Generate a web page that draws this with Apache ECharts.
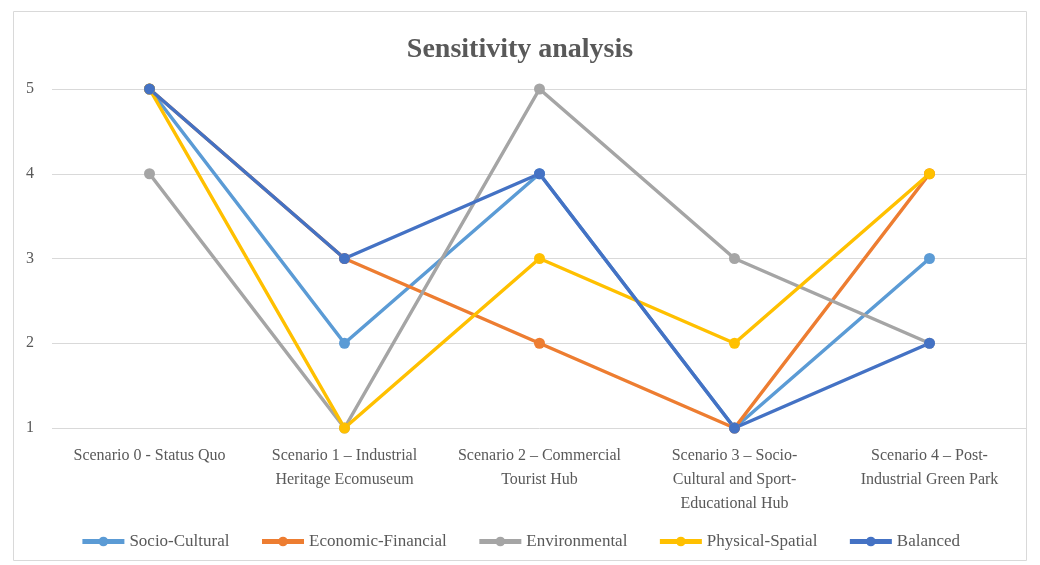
<!DOCTYPE html>
<html><head><meta charset="utf-8">
<script src="https://cdn.jsdelivr.net/npm/echarts@6/dist/echarts.min.js"></script>
<style>html,body{margin:0;padding:0;background:#fff}#c{width:1040px;height:565px}</style>
</head><body><div id="c"></div>
<script>
const categories = [
  'Scenario 0 - Status Quo',
  'Scenario 1 – Industrial\nHeritage Ecomuseum',
  'Scenario 2 – Commercial\nTourist Hub',
  'Scenario 3 – Socio-\nCultural and Sport-\nEducational Hub',
  'Scenario 4 – Post-\nIndustrial Green Park'
];
const socioCultural = [5, 2, 4, 1, 3];
const economicFinancial = [5, 3, 2, 1, 4];
const environmental = [4, 1, 5, 3, 2];
const physicalSpatial = [5, 1, 3, 2, 4];
const balanced = [5, 3, 4, 1, 2];
const yTicks = [1, 2, 3, 4, 5];

const font = '"Liberation Serif", "DejaVu Serif", serif';
const txt = '#595959';
function s(name, data, color) {
  return { name, type: 'line', data, color, symbol: 'circle', symbolSize: 11,
    lineStyle: { width: 3.5, color }, itemStyle: { color }, emphasis: { disabled: true } };
}
const chart = echarts.init(document.getElementById('c'));
chart.setOption({
  animation: false,
  textStyle: { fontFamily: font },
  title: { text: 'Sensitivity analysis', left: 'center', top: 31,
    textStyle: { fontFamily: font, fontSize: 28, fontWeight: 'bold', color: txt } },
  graphic: [{ type: 'rect', shape: { x: 13.5, y: 11.5, width: 1013, height: 549 },
    style: { fill: 'none', stroke: '#d9d9d9', lineWidth: 1 }, silent: true }],
  grid: { left: 52, right: 13, top: 89, bottom: 137, containLabel: false },
  xAxis: { type: 'category', data: categories, boundaryGap: true,
    axisLine: { show: false }, axisTick: { show: false },
    axisLabel: { color: txt, fontSize: 16, margin: 16, lineHeight: 24, interval: 0 } },
  yAxis: { type: 'value', min: yTicks[0], max: yTicks[yTicks.length - 1], interval: 1,
    axisLabel: { color: txt, fontSize: 16, margin: 18 },
    splitLine: { lineStyle: { color: '#d9d9d9', width: 1 } },
    axisLine: { show: false }, axisTick: { show: false } },
  legend: { bottom: 10, left: 'center', itemWidth: 42, itemHeight: 12, itemGap: 30,
    lineStyle: { width: 5 },
    textStyle: { color: txt, fontSize: 17, fontFamily: font } },
  series: [
    s('Socio-Cultural', socioCultural, '#5B9BD5'),
    s('Economic-Financial', economicFinancial, '#ED7D31'),
    s('Environmental', environmental, '#A5A5A5'),
    s('Physical-Spatial', physicalSpatial, '#FFC000'),
    s('Balanced', balanced, '#4472C4')
  ]
});
</script></body></html>
